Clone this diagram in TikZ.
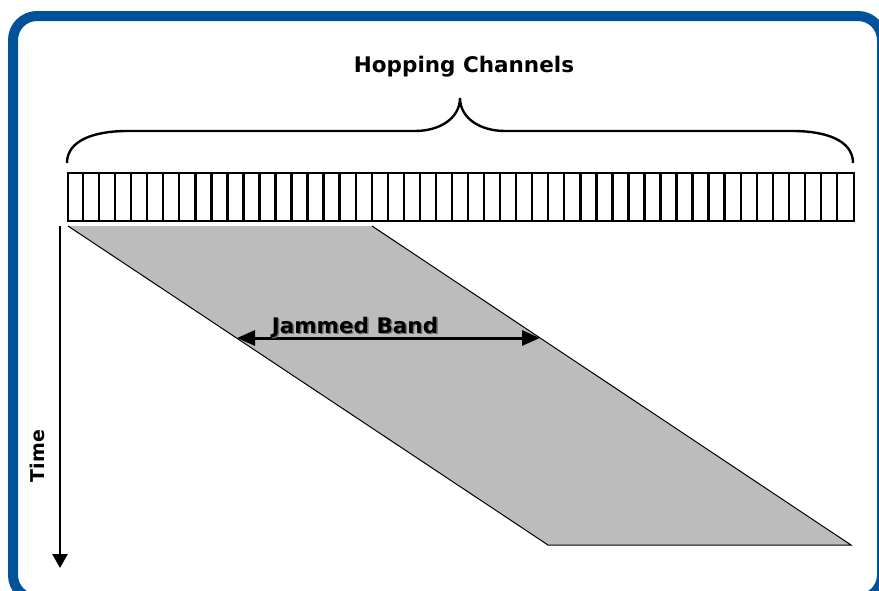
\documentclass[tikz,border=0pt]{standalone}
\usepackage{fontspec}
\setmainfont{DejaVu Sans}
\usetikzlibrary{arrows.meta,calc}
\definecolor{frameblue}{RGB}{0,83,155}
\definecolor{jamfill}{RGB}{188,188,188}
\begin{document}
\begin{tikzpicture}[x=1pt,y=-1pt,
  bigtext/.style={font=\fontsize{21.5}{26}\selectfont\bfseries, inner sep=0pt},
  timetext/.style={font=\fontsize{19}{23}\selectfont\bfseries, inner sep=0pt},
  barline/.style={line width=2.4pt},
  bracestyle/.style={line width=2.4pt},
  jamedge/.style={line width=1pt, line join=miter},
  timearrow/.style={line width=2.4pt, -{Triangle[length=14pt,width=15pt]}},
  jamarrow/.style={line width=3pt, {Triangle[length=18pt,width=15pt]}-{Triangle[length=18pt,width=15pt]}}]
\useasboundingbox (0,0) rectangle (879,590);
\clip (0,0) rectangle (879,590);
% frame
\draw[frameblue, line width=10pt, rounded corners=24pt] (13,16) rectangle (882,599);
% title
\node[bigtext, anchor=base] (title) at (464,72) {Hopping Channels};
% brace
\draw[bracestyle] (67,163) .. controls (67,140) and (95,131) .. (127,131) -- (415,131)
  .. controls (440,131) and (460,118) .. (460,98)
  .. controls (460,118) and (480,131) .. (505,131) -- (793,131)
  .. controls (825,131) and (853,140) .. (853,163);
% channel bar
\node[barline, draw, minimum width=786pt, minimum height=48pt, inner sep=0pt, anchor=north west] (bar) at (67,172) {};
\foreach \i in {1,...,48} {
  \draw[barline] ($(bar.north west)+(\i*16.0408,0)$) -- ($(bar.south west)+(\i*16.0408,0)$);
}
% jammed parallelogram
\coordinate (p1) at (68,226);
\coordinate (p2) at (372,226);
\coordinate (p3) at (851,545);
\coordinate (p4) at (548,545);
\fill[jamfill] (p1) -- (p2) -- (p3) -- (p4) -- cycle;
\draw[jamedge] (p2) -- (p3) -- (p4) -- (p1);
% time axis
\coordinate (t0) at (60,226);
\coordinate (t1) at (60,568);
\draw[timearrow] (t0) -- (t1);
\node[timetext, rotate=90, anchor=base] (time) at (45,456) {Time};
% jammed band arrow
\coordinate (j0) at (237,338);
\coordinate (j1) at (540,338);
\draw[jamarrow] (j0) -- (j1);
\node[bigtext, anchor=base, text=black!55] (jamshadow) at (356.5,334.5) {Jammed Band};
\node[bigtext, anchor=base] (jam) at (355,333) {Jammed Band};
\end{tikzpicture}
\end{document}
